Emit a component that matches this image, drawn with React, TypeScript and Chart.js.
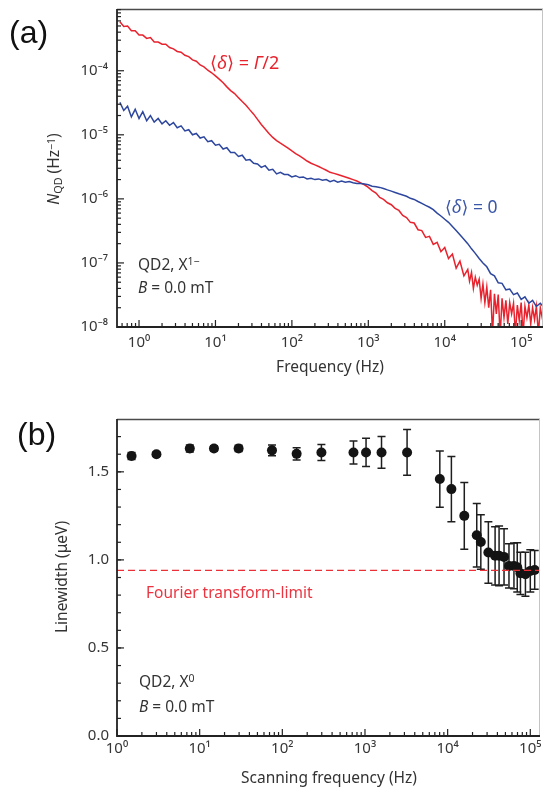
import React, { useEffect, useRef } from 'react';
import { Chart, registerables } from 'chart.js';
Chart.register(...registerables);

// ---------- Panel (a): noise spectra ----------
const freqs = [
  0.562, 0.631, 0.708, 0.794, 0.891,
  1, 1.12, 1.26, 1.41, 1.58, 1.78, 2.0, 2.24, 2.51, 2.82, 3.16, 3.55, 3.98, 4.47, 5.01, 5.62, 6.31, 7.08, 7.94, 8.91,
  10, 11.2, 12.6, 14.1, 15.8, 17.8, 20, 22.4, 25.1, 28.2, 31.6, 35.5, 39.8, 44.7, 50.1, 56.2, 63.1, 70.8, 79.4, 89.1,
  100, 112, 126, 141, 158, 178, 200, 224, 251, 282, 316, 355, 398, 447, 501, 562, 631, 708, 794, 891,
  1000, 1120, 1260, 1410, 1580, 1780, 2000, 2240, 2510, 2820, 3160, 3550, 3980, 4470, 5010, 5620, 6310, 7080, 7940, 8910,
  10000, 11200, 12600, 14100, 15800, 17800, 20000, 22400, 25100, 28200, 31600, 35500, 39800, 44700, 50100, 56200, 63100, 70800, 79400, 89100,
  100000, 112000, 126000, 141000, 158000, 178000, 200000,
];

// <δ> = Γ/2 (red), from 0.56 Hz up to 17.8 kHz
const nqdHalfGamma = [
  5.8e-4, 4.9e-4, 5.0e-4, 4.2e-4, 4.2e-4,
  3.6e-4, 3.6e-4, 3.2e-4, 3.3e-4, 2.8e-4, 2.8e-4, 2.6e-4, 2.6e-4, 2.3e-4, 2.2e-4, 2.0e-4, 1.95e-4, 1.74e-4, 1.66e-4, 1.48e-4, 1.41e-4, 1.23e-4, 1.15e-4, 1.02e-4, 9.3e-5,
  8.3e-5, 7.4e-5, 6.5e-5, 5.6e-5, 4.9e-5, 4.4e-5, 3.8e-5, 3.3e-5, 2.9e-5, 2.45e-5, 2.1e-5, 1.74e-5, 1.45e-5, 1.23e-5, 1.05e-5, 9.1e-6, 8.1e-6, 7.4e-6, 6.8e-6, 6.2e-6,
  5.6e-6, 5.1e-6, 4.7e-6, 4.3e-6, 3.9e-6, 3.6e-6, 3.4e-6, 3.2e-6, 3.0e-6, 2.8e-6, 2.6e-6, 2.5e-6, 2.4e-6, 2.3e-6, 2.2e-6, 2.1e-6, 2.0e-6, 1.9e-6, 1.78e-6, 1.66e-6,
  1.51e-6, 1.35e-6, 1.23e-6, 1.05e-6, 9.8e-7, 8.7e-7, 8.1e-7, 7.1e-7, 6.6e-7, 5.5e-7, 5.1e-7, 4.3e-7, 4.2e-7, 3.3e-7, 3.2e-7, 2.5e-7, 2.6e-7, 1.95e-7, 2.1e-7, 1.5e-7,
  1.74e-7, 1.17e-7, 1.38e-7, 8.3e-8, 1.07e-7, 6.3e-8,
];

// noisy high-frequency tail of the red trace (denser sampling)
const redTailFreqs = [
  20000, 21100, 22400, 23700, 25100, 26600, 28200, 29900, 31600, 33500, 35500, 37600, 39800, 42200, 44700, 47300,
  50100, 53100, 56200, 59600, 63100, 66800, 70800, 75000, 79400, 84100, 89100, 94400,
  100000, 105900, 112000, 118900, 126000, 133400, 141000, 149600, 158000, 168000, 178000, 188400, 200000,
];
const nqdHalfGammaTail = [
  7.9e-8, 5.2e-8, 7.1e-8, 4.0e-8, 6.0e-8, 4.5e-8, 5.6e-8, 2.8e-8, 4.7e-8, 2.4e-8, 4.2e-8, 2.0e-8, 3.8e-8, 7.9e-9, 3.3e-8, 1.6e-8,
  3.2e-8, 7.1e-9, 2.8e-8, 1.4e-8, 2.6e-8, 1.12e-8, 2.4e-8, 1.6e-8, 2.35e-8, 7.9e-9, 2.2e-8, 1.26e-8,
  2.4e-8, 7.6e-9, 2.1e-8, 1.4e-8, 2.2e-8, 1.12e-8, 2.0e-8, 1.3e-8, 2.1e-8, 7.9e-9, 2.0e-8, 1.4e-8, 1.9e-8,
];

// <δ> = 0 (blue)
const nqdZero = [
  3.2e-5, 2.4e-5, 2.8e-5, 1.9e-5, 2.5e-5,
  1.8e-5, 2.3e-5, 1.66e-5, 2.0e-5, 1.58e-5, 1.8e-5, 1.48e-5, 1.66e-5, 1.41e-5, 1.55e-5, 1.29e-5, 1.38e-5, 1.15e-5, 1.2e-5, 1.0e-5, 1.05e-5, 8.9e-6, 9.3e-6, 7.8e-6, 8.1e-6,
  6.9e-6, 7.1e-6, 6.0e-6, 6.3e-6, 5.3e-6, 5.3e-6, 4.6e-6, 4.8e-6, 4.0e-6, 4.1e-6, 3.6e-6, 3.5e-6, 3.1e-6, 3.3e-6, 2.8e-6, 2.9e-6, 2.45e-6, 2.6e-6, 2.4e-6, 2.4e-6,
  2.2e-6, 2.3e-6, 2.15e-6, 2.2e-6, 2.05e-6, 2.1e-6, 2.0e-6, 2.05e-6, 1.95e-6, 2.0e-6, 1.86e-6, 1.95e-6, 1.82e-6, 1.9e-6, 1.82e-6, 1.86e-6, 1.78e-6, 1.74e-6, 1.74e-6, 1.7e-6,
  1.66e-6, 1.58e-6, 1.55e-6, 1.51e-6, 1.45e-6, 1.38e-6, 1.32e-6, 1.26e-6, 1.2e-6, 1.15e-6, 1.1e-6, 1.02e-6, 9.8e-7, 9.1e-7, 8.5e-7, 7.9e-7, 7.4e-7, 6.8e-7, 6.0e-7, 5.4e-7,
  4.8e-7, 4.3e-7, 3.7e-7, 3.2e-7, 2.75e-7, 2.35e-7, 2.0e-7, 1.66e-7, 1.41e-7, 1.17e-7, 1.0e-7, 8.7e-8, 6.8e-8, 6.3e-8, 4.9e-8, 4.8e-8, 3.8e-8, 3.9e-8, 3.2e-8, 3.4e-8,
  2.7e-8, 2.95e-8, 2.35e-8, 2.6e-8, 2.1e-8, 2.35e-8, 2.0e-8,
];

const topXTicks = [1, 10, 100, 1000, 10000, 100000];
const topYTicks = [1e-8, 1e-7, 1e-6, 1e-5, 1e-4];

// ---------- Panel (b): linewidth ----------
const scanFreq = [1.5, 3.0, 7.6, 14.9, 29.6, 75, 149, 297, 726, 1030, 1585, 3230, 8040, 11100, 15900, 22500, 25200, 31100, 37500, 41900, 48100, 55200, 63400, 69500, 76000, 87300, 100000, 113000];
const linewidth = [1.59, 1.60, 1.633, 1.633, 1.633, 1.622, 1.602, 1.61, 1.61, 1.61, 1.61, 1.61, 1.459, 1.402, 1.25, 1.14, 1.102, 1.042, 1.023, 1.023, 1.017, 0.966, 0.966, 0.958, 0.924, 0.919, 0.9375, 0.943];
const linewidthErr = [0.02, 0.012, 0.02, 0.015, 0.018, 0.03, 0.035, 0.045, 0.065, 0.08, 0.09, 0.13, 0.16, 0.185, 0.19, 0.18, 0.155, 0.175, 0.165, 0.17, 0.16, 0.125, 0.13, 0.14, 0.12, 0.125, 0.12, 0.11];
const fourierLimit = 0.94;
const botXTicks = [1, 10, 100, 1000, 10000, 100000];
const botYTicks = [0, 0.5, 1.0, 1.5];

const FONT = '"Noto Sans", "DejaVu Sans", sans-serif';
const TICK_COLOR = '#363636';
const RED = '#e8232e';
const BLUE = '#2d469e';

const SUP: Record<string, string> = { '0': '⁰', '1': '¹', '2': '²', '3': '³', '4': '⁴', '5': '⁵', '6': '⁶', '7': '⁷', '8': '⁸', '9': '⁹', '-': '⁻' };
const powLabel = (v: number) => '10' + String(Math.round(Math.log10(v))).split('').map((c) => SUP[c]).join('');

function logMinors(min: number, max: number) {
  const out: number[] = [];
  for (let e = Math.floor(Math.log10(min)); e <= Math.ceil(Math.log10(max)); e++) {
    for (let k = 2; k <= 9; k++) {
      const v = k * Math.pow(10, e);
      if (v >= min && v <= max) out.push(v);
    }
  }
  return out;
}

const framePlugin = {
  id: 'frame',
  afterDraw(chart: any, _a: any, opts: any) {
    const { ctx, chartArea: a, scales } = chart;
    const x = scales.x, y = scales.y;
    ctx.save();
    ctx.strokeStyle = '#4a4a4a';
    ctx.lineWidth = 1.3;
    ctx.beginPath(); ctx.moveTo(a.left, a.top + 0.5); ctx.lineTo(a.right, a.top + 0.5); ctx.stroke();
    ctx.strokeStyle = '#c4c4c4';
    ctx.lineWidth = 1;
    ctx.beginPath(); ctx.moveTo(a.right - 0.5, a.top); ctx.lineTo(a.right - 0.5, a.bottom); ctx.stroke();
    ctx.strokeStyle = '#222';
    ctx.lineWidth = 1.2;
    const xt = (vals: number[], len: number) => vals.forEach((v) => {
      const p = x.getPixelForValue(v);
      if (p < a.left - 0.5 || p > a.right + 0.5) return;
      ctx.beginPath(); ctx.moveTo(p, a.bottom); ctx.lineTo(p, a.bottom - len); ctx.stroke();
    });
    const yt = (vals: number[], len: number) => vals.forEach((v) => {
      const p = y.getPixelForValue(v);
      if (p < a.top - 0.5 || p > a.bottom + 0.5) return;
      ctx.beginPath(); ctx.moveTo(a.left, p); ctx.lineTo(a.left + len, p); ctx.stroke();
    });
    xt(opts.xMinor, 4); xt(opts.xMajor, 7);
    yt(opts.yMinor, 4); yt(opts.yMajor, 7);
    ctx.lineWidth = 1.8;
    ctx.strokeStyle = '#222';
    ctx.beginPath(); ctx.moveTo(a.left, a.top); ctx.lineTo(a.left, a.bottom); ctx.lineTo(a.right, a.bottom); ctx.stroke();
    ctx.restore();
  },
};

const errorBarPlugin = {
  id: 'errbars',
  beforeDatasetsDraw(chart: any) {
    const { ctx, scales } = chart;
    const x = scales.x, y = scales.y;
    ctx.save();
    ctx.strokeStyle = '#1e1e1e';
    ctx.lineWidth = 1.5;
    scanFreq.forEach((f, i) => {
      const px = x.getPixelForValue(f);
      const y1 = y.getPixelForValue(linewidth[i] + linewidthErr[i]);
      const y2 = y.getPixelForValue(linewidth[i] - linewidthErr[i]);
      ctx.beginPath();
      ctx.moveTo(px, y1); ctx.lineTo(px, y2);
      ctx.moveTo(px - 4, y1); ctx.lineTo(px + 4, y1);
      ctx.moveTo(px - 4, y2); ctx.lineTo(px + 4, y2);
      ctx.stroke();
    });
    ctx.restore();
  },
};

const tickFont = { family: FONT, size: 15 };

function topConfig(): any {
  const xMin = 0.515, xMax = 1.93e5, yMin = 1e-8, yMax = 9.2e-4;
  const redPts = nqdHalfGamma.map((v, i) => ({ x: freqs[i], y: v }))
    .concat(nqdHalfGammaTail.map((v, i) => ({ x: redTailFreqs[i], y: v })));
  return {
    type: 'scatter',
    data: {
      datasets: [
        { data: freqs.map((f, i) => ({ x: f, y: nqdZero[i] })), showLine: true, borderColor: BLUE, borderWidth: 1.5, pointRadius: 0 },
        { data: redPts, showLine: true, borderColor: RED, borderWidth: 1.5, pointRadius: 0 },
      ],
    },
    options: {
      animation: false, responsive: false, devicePixelRatio: 1,
      layout: { padding: { top: 9, right: 2, left: 0, bottom: 0 } },
      plugins: {
        legend: { display: false }, tooltip: { enabled: false },
        frame: { xMajor: topXTicks, xMinor: logMinors(xMin, xMax), yMajor: topYTicks, yMinor: logMinors(yMin, yMax) },
      },
      scales: {
        x: {
          type: 'logarithmic', min: xMin, max: xMax,
          grid: { display: false, drawTicks: false }, border: { display: false },
          ticks: { font: tickFont, color: TICK_COLOR, padding: 7, maxRotation: 0, autoSkip: false, callback: (v: number) => powLabel(v) },
          afterBuildTicks: (s: any) => { s.ticks = topXTicks.map((v) => ({ value: v })); },
          afterFit: (s: any) => { s.height = 73; s.paddingLeft = 0; s.paddingRight = 0; },
        },
        y: {
          type: 'logarithmic', min: yMin, max: yMax,
          grid: { display: false, drawTicks: false }, border: { display: false },
          ticks: { font: tickFont, color: TICK_COLOR, padding: 9, autoSkip: false, callback: (v: number) => powLabel(v) },
          afterBuildTicks: (s: any) => { s.ticks = topYTicks.map((v) => ({ value: v })); },
          afterFit: (s: any) => { s.width = 117; s.paddingTop = 0; s.paddingBottom = 0; },
        },
      },
    },
    plugins: [framePlugin],
  };
}

function botConfig(): any {
  const xMin = 1, xMax = 1.31e5, yMin = 0, yMax = 1.8;
  const yMinor: number[] = [];
  for (let k = 1; k < 18; k++) yMinor.push(k / 10);
  return {
    type: 'scatter',
    data: {
      datasets: [
        { data: [{ x: xMin, y: fourierLimit }, { x: xMax, y: fourierLimit }], showLine: true, borderColor: '#ec3038', borderWidth: 1.3, borderDash: [7, 4], pointRadius: 0, order: 0 },
        { data: scanFreq.map((f, i) => ({ x: f, y: linewidth[i] })), pointRadius: 5, pointBackgroundColor: '#141414', pointBorderColor: '#141414', pointBorderWidth: 0, order: 1 },
      ],
    },
    options: {
      animation: false, responsive: false, devicePixelRatio: 1,
      layout: { padding: { top: 19, right: 2, left: 0, bottom: 0 } },
      plugins: {
        legend: { display: false }, tooltip: { enabled: false },
        frame: { xMajor: botXTicks, xMinor: logMinors(xMin, xMax), yMajor: botYTicks, yMinor },
      },
      scales: {
        x: {
          type: 'logarithmic', min: xMin, max: xMax,
          grid: { display: false, drawTicks: false }, border: { display: false },
          ticks: { font: tickFont, color: TICK_COLOR, padding: 4, maxRotation: 0, autoSkip: false, callback: (v: number) => powLabel(v) },
          afterBuildTicks: (s: any) => { s.ticks = botXTicks.map((v) => ({ value: v })); },
          afterFit: (s: any) => { s.height = 51; s.paddingLeft = 0; s.paddingRight = 0; },
        },
        y: {
          type: 'linear', min: yMin, max: yMax,
          grid: { display: false, drawTicks: false }, border: { display: false },
          ticks: { font: tickFont, color: TICK_COLOR, padding: 8, autoSkip: false, callback: (v: number) => v.toFixed(1) },
          afterBuildTicks: (s: any) => { s.ticks = botYTicks.map((v) => ({ value: v })); },
          afterFit: (s: any) => { s.width = 117; s.paddingTop = 0; s.paddingBottom = 0; },
        },
      },
    },
    plugins: [framePlugin, errorBarPlugin],
  };
}

function Txt(props: { x: number; cy: number; size?: number; color?: string; center?: boolean; children: any; family?: string }) {
  const size = props.size ?? 15.5;
  return (
    <div
      style={{
        position: 'absolute', left: props.x, top: props.cy - 0.73 * size,
        fontSize: size, lineHeight: `${1.4 * size}px`, fontFamily: props.family ?? FONT,
        color: props.color ?? '#333', whiteSpace: 'nowrap',
        transform: props.center ? 'translateX(-50%)' : undefined,
      }}
    >
      {props.children}
    </div>
  );
}

function VTitle(props: { cx: number; cy: number; size?: number; children: any }) {
  return (
    <div
      style={{
        position: 'absolute', left: props.cx, top: props.cy, fontSize: props.size ?? 15.5, lineHeight: 1,
        fontFamily: FONT, color: '#333', whiteSpace: 'nowrap',
        transform: 'translate(-50%, -50%) rotate(-90deg)',
      }}
    >
      {props.children}
    </div>
  );
}

const supStyle: any = { fontSize: '0.68em', verticalAlign: '0.45em', lineHeight: 0 };
const subStyle: any = { fontSize: '0.7em', verticalAlign: '-0.25em', lineHeight: 0 };

export default function App() {
  const topRef = useRef<HTMLCanvasElement>(null);
  const botRef = useRef<HTMLCanvasElement>(null);
  useEffect(() => {
    const c1 = new Chart(topRef.current as HTMLCanvasElement, topConfig());
    const c2 = new Chart(botRef.current as HTMLCanvasElement, botConfig());
    return () => { c1.destroy(); c2.destroy(); };
  }, []);
  return (
    <div style={{ position: 'fixed', left: 0, top: 0, width: 545, height: 787, background: '#fff', overflow: 'hidden' }}>
      <canvas ref={topRef} width={545} height={400} style={{ position: 'absolute', left: 0, top: 0, width: 545, height: 400 }} />
      <canvas ref={botRef} width={545} height={387} style={{ position: 'absolute', left: 0, top: 400, width: 545, height: 387 }} />

      <div style={{ position: 'absolute', left: 9, top: 16, fontSize: 32, lineHeight: '32px', fontFamily: '"Liberation Sans", Arial, sans-serif', color: '#111' }}>(a)</div>
      <div style={{ position: 'absolute', left: 17, top: 418, fontSize: 32, lineHeight: '32px', fontFamily: '"Liberation Sans", Arial, sans-serif', color: '#111' }}>(b)</div>

      <VTitle cx={54} cy={169}><i>N</i><span style={subStyle}>QD</span> (Hz<span style={supStyle}>−1</span>)</VTitle>
      <Txt x={330} cy={367} center>Frequency (Hz)</Txt>
      <Txt x={210} cy={63} size={18} color={RED}>⟨<i>δ</i>⟩ = <i>Γ</i>/2</Txt>
      <Txt x={445} cy={207} size={17.5} color="#3b57a8">⟨<i>δ</i>⟩ = 0</Txt>
      <Txt x={138} cy={265}>QD2, X<span style={supStyle}>1−</span></Txt>
      <Txt x={138} cy={288}><i>B</i> = 0.0 mT</Txt>

      <VTitle cx={62} cy={577}>Linewidth (μeV)</VTitle>
      <Txt x={329} cy={778} center>Scanning frequency (Hz)</Txt>
      <Txt x={146} cy={593} color="#ec3440">Fourier transform-limit</Txt>
      <Txt x={139} cy={682}>QD2, X<span style={supStyle}>0</span></Txt>
      <Txt x={139} cy={707}><i>B</i> = 0.0 mT</Txt>
    </div>
  );
}
